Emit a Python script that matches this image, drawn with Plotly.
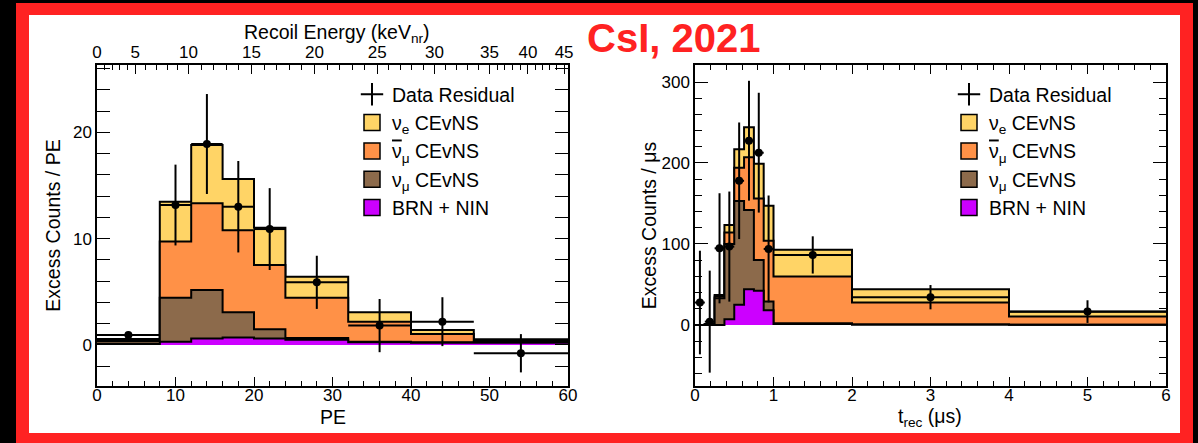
import numpy as np
import plotly.graph_objects as go

# ---------------- Left panel: PE spectrum ----------------
pe_edges = [0, 8, 12, 16, 20, 24, 32, 40, 48, 60]
pe_brn = [0.1, 0.3, 0.6, 0.7, 0.6, 0.5, 0.25, 0.2, 0.2]          # BRN + NIN
pe_numu = [0.25, 4.15, 4.57, 2.37, 0.87, 0.15, 0.05, 0.05, 0.1]   # nu_mu CEvNS
pe_numubar = [0.1, 5.27, 8.15, 7.73, 6.05, 3.8, 1.89, 0.78, 0.12] # anti-nu_mu CEvNS
pe_nue = [0.1, 3.75, 5.48, 4.8, 3.51, 1.97, 0.88, 0.38, 0.11]     # nu_e CEvNS

pe_x = [4, 10, 14, 18, 22, 28, 36, 44, 54]
pe_xerr = [4, 2, 2, 2, 2, 4, 4, 4, 6]
pe_y = [0.94, 13.16, 18.9, 13.0, 10.9, 5.89, 1.82, 2.19, -0.78]
pe_yerr = [0.3, 3.8, 4.7, 4.3, 3.85, 2.5, 2.5, 2.3, 1.8]

# top axis: recoil energy (keVnr) tick labels and their PE positions
er_labels = ["0", "5", "10", "15", "20", "25", "30", "35", "40", "45"]
er_pe_pos = [0.0, 4.86, 11.66, 19.67, 27.7, 35.7, 43.0, 50.0, 54.9, 59.5]

# ---------------- Right panel: timing ----------------
t_edges = [0, 0.125, 0.25, 0.375, 0.5, 0.625, 0.75, 0.875, 1, 2, 4, 6]
t_brn = [0, 0, 0, 7, 25, 44, 42, 18, 1, 0.5, 0.2]
t_numu = [0, 1, 33, 93, 128, 98, 38, 11, 1, 0, 0.1]
t_numubar = [0, 0, 2, 14, 41, 65, 76, 75, 57.7, 27, 10]
t_nue = [0, 0, 2, 9.5, 23, 37, 43, 43, 33, 16.5, 6]

t_x = [0.0625, 0.1875, 0.3125, 0.4375, 0.5625, 0.6875, 0.8125, 0.9375, 1.5, 3, 5]
t_xerr = [0.0625, 0.0625, 0.0625, 0.0625, 0.0625, 0.0625, 0.0625, 0.0625, 0.5, 1, 1]
t_y = [27.6, 4, 94.6, 96.7, 178, 227.5, 212.7, 93.8, 86.4, 34.2, 16.4]
t_yerr = [64, 63, 68, 68, 72, 74, 74, 66, 23, 15, 14]

names = ["ν<sub>e</sub> CEvNS",
         "<span style='text-decoration:overline'>ν</span><sub>μ</sub> CEvNS",
         "ν<sub>μ</sub> CEvNS",
         "BRN + NIN"]
colors = ["#FFD466", "#FF9147", "#8C6A4B", "#CC00FF"]

W, H = 1198, 443
FONT = "Liberation Sans, Arial, sans-serif"

fig = go.Figure()


def add_stack(edges, comps, xa, ya):
    # comps in order: brn, numu, numubar, nue  -> cumulative tops
    cum = np.cumsum(np.array(comps, dtype=float), axis=0)
    order = [3, 2, 1, 0]  # draw total first
    for k, idx in enumerate(order):
        vals = list(cum[idx])
        fig.add_trace(go.Scatter(
            x=list(edges), y=vals + [vals[-1]], mode="lines",
            line=dict(shape="hv", color="black", width=2),
            fill="tozeroy", fillcolor=colors[k],
            xaxis=xa, yaxis=ya, showlegend=False, hoverinfo="skip"))


def add_data(x, y, xerr, yerr, xa, ya):
    fig.add_trace(go.Scatter(
        x=x, y=y, mode="markers",
        marker=dict(color="black", size=8, symbol="circle"),
        error_x=dict(type="data", array=xerr, color="black", thickness=2, width=0),
        error_y=dict(type="data", array=yerr, color="black", thickness=2, width=0),
        xaxis=xa, yaxis=ya, showlegend=False))


def add_legend(leg):
    fig.add_trace(go.Scatter(
        x=[None], y=[None], mode="markers", name="Data Residual",
        marker=dict(symbol="cross-thin-open", size=16, color="black",
                    line=dict(color="black", width=2)),
        legend=leg, showlegend=True))
    for k in range(4):
        fig.add_trace(go.Scatter(
            x=[None], y=[None], mode="markers", name=names[k],
            marker=dict(symbol="square", size=16, color=colors[k],
                        line=dict(color="black", width=1.5)),
            legend=leg, showlegend=True))


add_stack(pe_edges, [pe_brn, pe_numu, pe_numubar, pe_nue], "x", "y")
add_data(pe_x, pe_y, pe_xerr, pe_yerr, "x", "y")
add_stack(t_edges, [t_brn, t_numu, t_numubar, t_nue], "x2", "y2")
add_data(t_x, t_y, t_xerr, t_yerr, "x2", "y2")
# empty trace so that the top (recoil energy) axis gets drawn
fig.add_trace(go.Scatter(x=[None], y=[None], xaxis="x3", yaxis="y",
                         showlegend=False, hoverinfo="skip"))
add_legend("legend")
add_legend("legend2")

# minor ticks for the energy axis (4 subdivisions between labelled ticks)
er_minor = []
for a, b in zip(er_pe_pos[:-1], er_pe_pos[1:]):
    for j in range(1, 5):
        er_minor.append(a + (b - a) * j / 5)

tickfont = dict(family=FONT, size=17, color="black")
titlefont = dict(family=FONT, size=19.5, color="black")

common = dict(showgrid=False, zeroline=False, showline=True, linecolor="black",
              linewidth=1.5, ticks="inside", tickcolor="black", tickwidth=1,
              tickfont=tickfont, automargin=False)

xl = (97 / W, 568 / W)
xr = (695 / W, 1166 / W)
yd = ((H - 386) / H, (H - 65) / H)

fig.update_layout(
    width=W, height=H,
    margin=dict(l=0, r=0, t=0, b=0),
    paper_bgcolor="black", plot_bgcolor="white",
    font=dict(family=FONT, color="black"),
    xaxis=dict(domain=xl, range=[0, 60], dtick=10, ticklen=9, mirror=True,
               ticklabelstandoff=-7,
               minor=dict(dtick=2, ticklen=5, ticks="inside", tickcolor="black"),
               anchor="y", **common),
    yaxis=dict(domain=yd, range=[-3.86, 26.33], dtick=10, ticklen=13, mirror="allticks",
               minor=dict(dtick=2, ticklen=7, ticks="inside", tickcolor="black"),
               title=dict(text="Excess Counts / PE", font=titlefont, standoff=7),
               anchor="x", **common),
    xaxis3=dict(overlaying="x", side="top", anchor="y", range=[0, 60],
                tickmode="array", tickvals=er_pe_pos, ticktext=er_labels, ticklen=9,
                ticklabelstandoff=3,
                minor=dict(tickmode="array", tickvals=er_minor, ticklen=5,
                           ticks="inside", tickcolor="black"),
                showgrid=False, zeroline=False, showline=False, ticks="inside",
                tickcolor="black", tickwidth=1, tickfont=tickfont, automargin=False),
    xaxis2=dict(domain=xr, range=[0, 6], dtick=1, ticklen=9, mirror="allticks",
                ticklabelstandoff=-7,
                minor=dict(dtick=0.2, ticklen=5, ticks="inside", tickcolor="black"),
                anchor="y2", **common),
    yaxis2=dict(domain=yd, range=[-75.5, 321], dtick=100, ticklen=13, mirror="allticks",
                minor=dict(dtick=20, ticklen=7, ticks="inside", tickcolor="black"),
                title=dict(text="Excess Counts / μs", font=titlefont, standoff=0),
                anchor="x2", **common),
    legend=dict(x=352 / W, y=1 - 75 / H, xanchor="left", yanchor="top",
                bgcolor="rgba(0,0,0,0)", font=dict(family=FONT, size=19.5, color="black"),
                tracegroupgap=0, itemwidth=30),
    legend2=dict(x=949 / W, y=1 - 75 / H, xanchor="left", yanchor="top",
                 bgcolor="rgba(0,0,0,0)", font=dict(family=FONT, size=19.5, color="black"),
                 tracegroupgap=0, itemwidth=30),
    shapes=[
        dict(type="rect", xref="paper", yref="paper", x0=16 / W, x1=1193 / W,
             y0=0, y1=1 - 3 / H, fillcolor="#FF2222", line=dict(width=0), layer="below"),
        dict(type="rect", xref="paper", yref="paper", x0=29 / W, x1=1180 / W,
             y0=1 - 433 / H, y1=1 - 15 / H, fillcolor="white", line=dict(width=0),
             layer="below"),
    ],
    annotations=[
        dict(text="<b>CsI, 2021</b>", xref="paper", yref="paper", x=673 / W, y=1 - 38 / H,
             xanchor="center", yanchor="middle", showarrow=False,
             font=dict(family=FONT, size=40, color="#FF2222")),
        dict(text="Recoil Energy (keV<sub>nr</sub>)", xref="paper", yref="paper",
             x=337 / W, y=1 - 34 / H, xanchor="center", yanchor="middle",
             showarrow=False, font=titlefont),
        dict(text="PE", xref="paper", yref="paper", x=333 / W, y=1 - 417 / H,
             xanchor="center", yanchor="middle", showarrow=False, font=titlefont),
        dict(text="t<sub>rec</sub> (μs)", xref="paper", yref="paper", x=930 / W,
             y=1 - 417 / H, xanchor="center", yanchor="middle", showarrow=False,
             font=titlefont),
    ],
)

fig.write_html("out.html")
